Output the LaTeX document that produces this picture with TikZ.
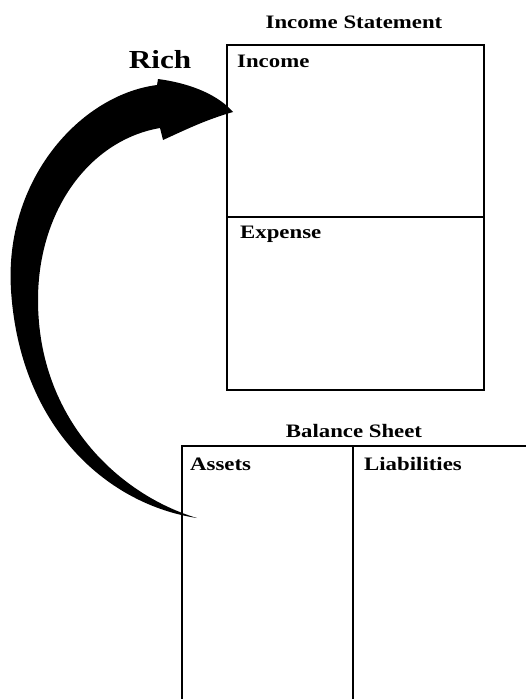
\documentclass[tikz,border=0pt]{standalone}
\usepackage{fontspec}
\newfontfamily\lbl[FakeStretch=1.2]{Liberation Serif}
\begin{document}
\begin{tikzpicture}[x=1pt,y=-1pt,
  txt/.style={inner sep=0pt,font=\lbl\bfseries\fontsize{19}{20}\selectfont},
  bigtxt/.style={inner sep=0pt,font=\lbl\bfseries\fontsize{26}{28}\selectfont},
  frame/.style={line width=2pt}]
\useasboundingbox (0,0) rectangle (526,699);
% Income statement
\node[txt,anchor=base] (ist) at (354,28) {Income Statement};
\draw[frame] (227,45) rectangle (484,390);
\coordinate (isl) at (227,217);
\coordinate (isr) at (484,217);
\draw[frame] (isl) -- (isr);
\node[txt,anchor=base west] (inc) at (237,67) {Income};
\node[txt,anchor=base west] (exp) at (240,238) {Expense};
\node[bigtxt,anchor=base] (rich) at (160,68) {Rich};
% Balance sheet
\node[txt,anchor=base] (bst) at (354,437) {Balance Sheet};
\coordinate (bstl) at (182,446);
\coordinate (bstr) at (530,446);
\coordinate (bsbl) at (182,705);
\draw[frame] (bsbl) -- (bstl) -- (bstr);
\coordinate (bsdt) at (353,446);
\coordinate (bsdb) at (353,705);
\draw[line width=1.6pt] (bsdt) -- (bsdb);
\node[txt,anchor=base west] (ast) at (190,470) {Assets};
\node[txt,anchor=base west] (lia) at (364,470) {Liabilities};
% Curved arrow
\coordinate (tail) at (197,518);
\coordinate (tip) at (233,112);
\fill[black] (tail) .. controls (110,505) and (20,430) .. (11,290)
  .. controls (4,180) and (80,95) .. (157,85)
  -- (158,79) .. controls (195,84) and (220,97) .. (tip)
  .. controls (205,120) and (185,130) .. (163,140) -- (160,128)
  .. controls (90,140) and (38,210) .. (38,300)
  .. controls (38,420) and (120,495) .. (tail)
  -- cycle;
\end{tikzpicture}
\end{document}
